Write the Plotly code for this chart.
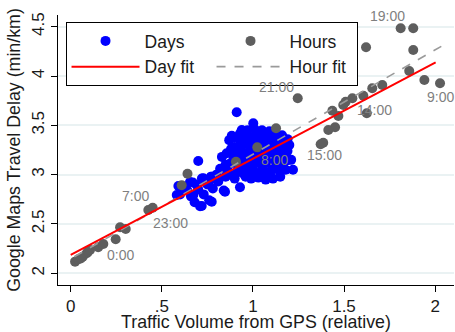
import numpy as np
import plotly.graph_objects as go

# ---- Data ----
days_x = [0.911, 1.002, 0.939, 0.884, 0.700, 0.856, 0.582, 0.591, 0.673, 0.719,
          0.774, 0.692, 0.728, 0.774, 0.847, 0.929, 1.194, 0.765, 0.633, 0.655,
          0.86, 0.88, 0.89, 0.90, 0.91, 0.92, 0.93, 0.94, 0.95, 0.96,
          0.96, 0.97, 0.98, 0.99, 1.00, 1.00, 1.01, 1.02, 1.03, 1.04,
          1.04, 1.05, 1.06, 1.07, 1.08, 1.08, 1.09, 1.10, 1.11, 1.12,
          1.13, 1.14, 1.15, 1.15, 1.16, 1.17, 1.18, 1.19, 0.87, 0.90,
          0.93, 0.97, 1.01, 1.05, 1.09, 1.12, 1.16, 1.20, 1.21, 1.22,
          0.99, 1.03, 1.07, 1.11, 1.14, 0.94, 0.98, 1.02, 1.06, 1.10,
          0.92, 0.96, 1.00, 1.04, 1.08, 1.12,
          0.88, 0.90, 0.92, 0.95, 0.97, 0.99, 1.01, 1.03, 1.05, 1.06,
          1.08, 1.10, 1.11, 1.13, 1.14, 1.16, 1.17, 1.18, 1.19, 0.95,
          0.98, 1.02, 1.06, 1.10, 0.89, 0.87, 0.85,
          0.60, 0.62, 0.64, 0.66, 0.67, 0.68, 0.70, 0.71, 0.72, 0.73,
          0.75, 0.76, 0.77, 0.78, 0.80, 0.81, 0.82, 0.84, 0.85, 0.83]
days_y = [3.632, 3.521, 3.453, 3.395, 3.138, 3.217, 2.794, 2.885, 2.794, 2.682,
          2.726, 2.895, 2.963, 2.979, 2.827, 2.872, 3.149, 2.946, 2.844, 2.926,
          3.05, 3.12, 3.20, 3.28, 3.02, 3.15, 3.35, 3.08, 3.22, 3.40,
          2.98, 3.12, 3.30, 3.18, 3.05, 3.38, 3.25, 3.12, 3.42, 3.00,
          3.20, 3.32, 3.10, 3.26, 3.38, 3.02, 3.16, 3.30, 3.08, 3.22,
          3.36, 3.12, 2.98, 3.28, 3.18, 3.34, 3.05, 3.24, 3.35, 2.96,
          3.42, 3.45, 3.46, 3.45, 3.44, 3.42, 3.40, 3.30, 3.15, 3.05,
          2.96, 2.97, 2.95, 2.96, 3.05, 3.30, 3.24, 3.34, 3.18, 3.12,
          3.08, 3.16, 3.12, 3.28, 3.22, 3.14,
          3.26, 3.38, 3.24, 3.32, 3.04, 3.36, 3.02, 3.16, 3.06, 3.38,
          3.30, 3.20, 3.36, 3.28, 3.20, 3.10, 3.26, 3.14, 3.36, 3.01,
          3.10, 3.22, 3.26, 3.04, 3.12, 3.00, 2.98,
          2.80, 2.88, 2.84, 2.78, 2.92, 2.72, 2.85, 2.68, 2.96, 2.80,
          2.90, 2.74, 2.98, 2.86, 3.00, 2.93, 3.06, 2.84, 3.10, 3.18]

hours_x = [0.024, 0.042, 0.055, 0.066, 0.088, 0.095, 0.106, 0.151, 0.179, 0.247,
           0.271, 0.302, 0.426, 0.450, 0.609, 0.641, 0.907, 1.024, 1.127, 1.246,
           1.811, 1.880, 1.621, 1.880, 1.858, 1.941, 2.027, 1.710, 1.655, 1.606,
           1.546, 1.509, 1.496, 1.436, 1.625, 1.469, 1.451, 1.414, 1.386, 1.372]
hours_y = [2.118, 2.142, 2.150, 2.168, 2.203, 2.220, 2.236, 2.264, 2.297, 2.345,
           2.466, 2.449, 2.642, 2.665, 2.892, 3.010, 3.131, 3.277, 3.470, 3.774,
           4.484, 4.484, 4.291, 4.264, 4.051, 3.960, 3.926, 3.909, 3.876, 3.800,
           3.774, 3.740, 3.706, 3.648, 3.622, 3.595, 3.480, 3.453, 3.324, 3.308]

label_text = ["0:00", "7:00", "23:00", "8:00", "15:00", "14:00", "21:00", "19:00", "9:00"]
label_x = [0.276, 0.353, 0.545, 1.116, 1.395, 1.670, 1.131, 1.736, 2.027]
label_y = [2.186, 2.784, 2.513, 3.149, 3.199, 3.656, 3.886, 4.608, 3.784]

day_fit_intercept, day_fit_slope = 2.186, 0.975
day_fit_range = [0.0, 2.003]
hour_fit_intercept, hour_fit_slope = 2.147, 1.059
hour_fit_range = [0.02, 2.064]

x_tickvals = [0, 0.5, 1, 1.5, 2]
x_ticktext = ["0", ".5", "1", "1.5", "2"]
y_tickvals = [2, 2.5, 3, 3.5, 4, 4.5]
y_ticktext = ["2", "2.5", "3", "3.5", "4", "4.5"]

FONT = "Liberation Sans, Arial, sans-serif"

day_fx = np.array(day_fit_range)
day_fy = day_fit_intercept + day_fit_slope * day_fx
hour_fx = np.array(hour_fit_range)
hour_fy = hour_fit_intercept + hour_fit_slope * hour_fx

fig = go.Figure()
fig.add_trace(go.Scatter(x=days_x, y=days_y, mode="markers", name="Days",
                         marker=dict(color="#0000ff", size=10, line=dict(width=0)),
                         legendrank=1))
fig.add_trace(go.Scatter(x=hours_x, y=hours_y, mode="markers", name="Hours",
                         marker=dict(color="#5e5e5e", size=10, line=dict(width=0)),
                         legendrank=2))
fig.add_trace(go.Scatter(x=hour_fx, y=hour_fy, mode="lines", name="Hour fit",
                         line=dict(color="#9a9a9a", width=1.6, dash="dash"),
                         legendrank=4))
fig.add_trace(go.Scatter(x=day_fx, y=day_fy, mode="lines", name="Day fit",
                         line=dict(color="#ff0000", width=2),
                         legendrank=3))

for t, x, y in zip(label_text, label_x, label_y):
    fig.add_annotation(x=x, y=y, text=t, showarrow=False,
                       font=dict(family=FONT, size=14, color="#7f7f7f"))

fig.update_layout(
    width=455, height=332,
    margin=dict(l=58, r=1, t=15, b=47),
    paper_bgcolor="white", plot_bgcolor="white",
    font=dict(family=FONT, size=17, color="#1a1a1a"),
    showlegend=True,
    legend=dict(orientation="h", x=0.019, y=0.974, xanchor="left", yanchor="top",
                bgcolor="white", bordercolor="black", borderwidth=1,
                font=dict(family=FONT, size=17.5, color="#1a1a1a"),
                itemwidth=68, entrywidth=62, tracegroupgap=0),
)
fig.update_xaxes(range=[-0.0697, 2.1037], tickvals=x_tickvals, ticktext=x_ticktext,
                 showgrid=False, zeroline=False, showline=True, linecolor="black",
                 linewidth=1, ticks="outside", ticklen=6, tickcolor="black",
                 tickfont=dict(size=17),
                 title=dict(text="Traffic Volume from GPS (relative)", font=dict(size=17.8), standoff=1))
fig.update_yaxes(range=[1.8814, 4.6186], tickvals=y_tickvals, ticktext=y_ticktext,
                 showgrid=True, gridcolor="#eaf2f3", gridwidth=1.5,
                 zeroline=False, showline=True, linecolor="black",
                 linewidth=1, ticks="outside", ticklen=6, tickcolor="black",
                 tickangle=-90, tickfont=dict(size=17),
                 title=dict(text="Google Maps Travel Delay (min/km)", font=dict(size=17.8), standoff=3))

fig.write_html("out.html")
